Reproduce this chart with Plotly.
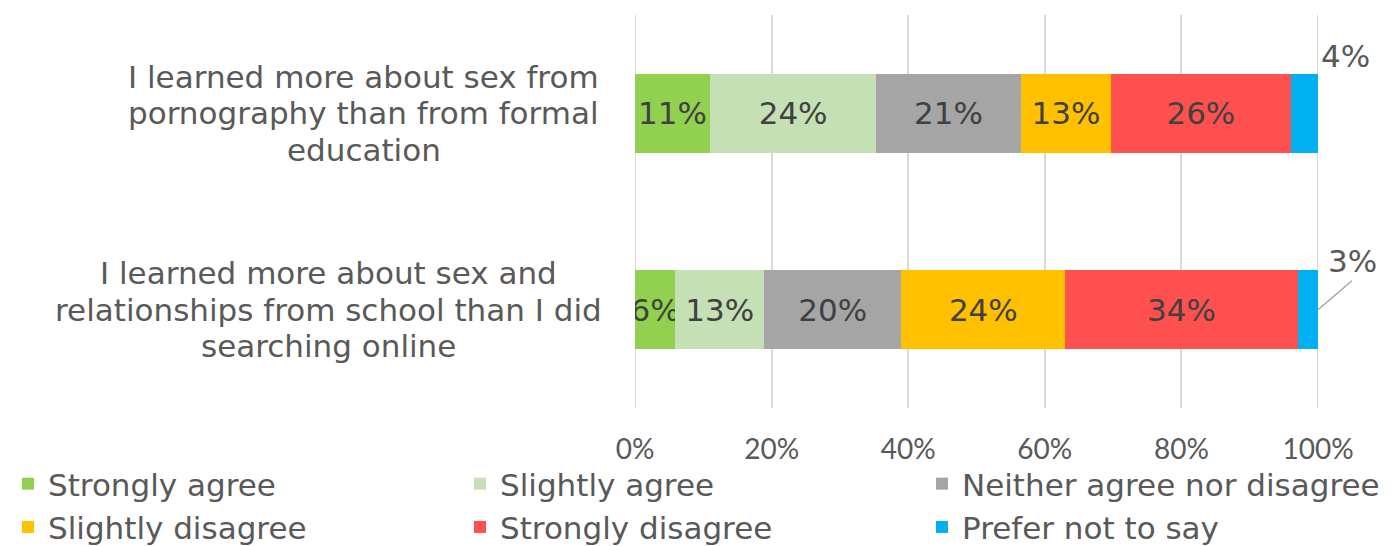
import plotly.graph_objects as go

categories = [
    "I learned more about sex from<br>pornography than from formal<br>education",
    "I learned more about sex and<br>relationships from school than I did<br>searching online",
]
series_names = ["Strongly agree", "Slightly agree", "Neither agree nor disagree",
                "Slightly disagree", "Strongly disagree", "Prefer not to say"]
colors = ["#92D050", "#C5E0B4", "#A5A5A5", "#FFC000", "#FF5050", "#00B0F0"]
values = [
    [11.0, 5.9],
    [24.3, 13.0],
    [21.2, 20.1],
    [13.2, 24.0],
    [26.3, 34.0],
    [4.0, 3.0],
]
tick_vals = [0, 20, 40, 60, 80, 100]
tick_text = ["0%", "20%", "40%", "60%", "80%", "100%"]

FONT = "DejaVu Sans, Verdana, sans-serif"
TEXT = "#595959"
GRID = "#D9D9D9"

W, H = 1389, 538  # page body adds an 8px margin

fig = go.Figure()
for i, (name, col, vals) in enumerate(zip(series_names, colors, values)):
    inside = i < len(series_names) - 1
    fig.add_trace(go.Bar(
        name=name, y=categories, x=vals, orientation="h",
        marker=dict(color=col, line=dict(width=0)),
        text=[f"{round(v)}%" for v in vals] if inside else None,
        textposition="inside" if inside else "none",
        insidetextanchor="middle", textangle=0,
        textfont=dict(family=FONT, size=31, color="#404040"),
        hoverinfo="skip",
        legend=["legend", "legend2", "legend3"][i % 3],
    ))

# gridlines at the axis ends (plotly clips grid lines that sit on the plot edges)
for xv in (tick_vals[0], tick_vals[-1]):
    fig.add_vline(x=xv, line=dict(color=GRID, width=2), layer="below")

# category labels (centered multi-line, one annotation per line)
block_centers = [-0.397, -0.449]  # paper x of each label block's centre
line_step = 36.5
for c, bx in zip(categories, block_centers):
    lines = c.split("<br>")
    n = len(lines)
    for k, ln in enumerate(lines):
        fig.add_annotation(x=bx, xref="paper", y=c, yref="y", text=ln, showarrow=False,
                           xanchor="center", yanchor="middle",
                           yshift=-(k - (n - 1) / 2) * line_step,
                           font=dict(family=FONT, size=31, color=TEXT))

# outside labels for "Prefer not to say"
last = values[-1]
fig.add_annotation(x=100, y=categories[0], xref="x", yref="y", text=f"{round(last[0])}%",
                   showarrow=False, xanchor="left", yanchor="middle", xshift=1, yshift=57,
                   font=dict(family=FONT, size=31, color=TEXT))
fig.add_annotation(x=100, y=categories[1], xref="x", yref="y", text=f"{round(last[1])}%",
                   showarrow=True, arrowhead=0, arrowwidth=1.5, arrowcolor="#A6A6A6",
                   ax=34, ay=-29, xanchor="center", yanchor="bottom",
                   font=dict(family=FONT, size=31, color=TEXT))

legend_common = dict(orientation="v", xref="container", yref="container",
                     yanchor="top", xanchor="left", traceorder="normal",
                     font=dict(family=FONT, size=31, color=TEXT),
                     bgcolor="rgba(0,0,0,0)", itemclick=False, itemdoubleclick=False,
                     tracegroupgap=0)
ly = 1 - 449 / H
fig.update_layout(
    width=W, height=H,
    margin=dict(l=627, r=79, t=7, b=138, autoexpand=False),
    barmode="stack", bargap=0.6,
    plot_bgcolor="white", paper_bgcolor="white",
    uniformtext=dict(minsize=31, mode="show"),
    showlegend=True,
    legend=dict(x=0.0, y=ly, **legend_common),
    legend2=dict(x=452 / W, y=ly, **legend_common),
    legend3=dict(x=914 / W, y=ly, **legend_common),
    xaxis=dict(range=[0, 100], tickvals=tick_vals, ticktext=tick_text,
               showgrid=True, gridcolor=GRID, gridwidth=2,
               zeroline=False, showline=False,
               ticks="outside", ticklen=16, tickcolor="rgba(0,0,0,0)",
               tickfont=dict(family="Liberation Sans Narrow, Lato, sans-serif", size=28, color=TEXT)),
    yaxis=dict(categoryorder="array", categoryarray=categories, autorange="reversed",
               showticklabels=False, showgrid=False, zeroline=False, showline=False),
)

fig.write_html("out.html")
